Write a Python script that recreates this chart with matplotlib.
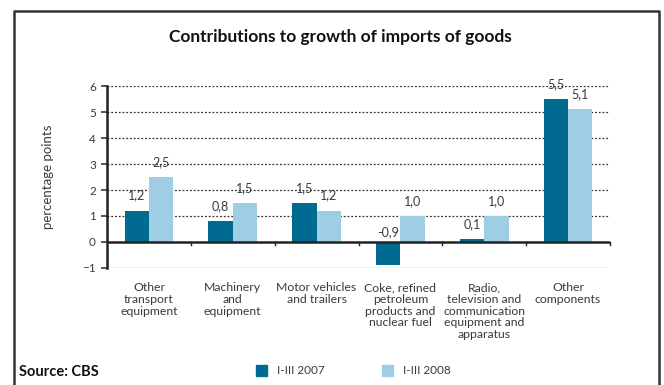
import numpy as np
import matplotlib.pyplot as plt
from matplotlib.patches import Rectangle

plt.rcParams['font.family'] = ['Lato', 'DejaVu Sans']

categories = ['Other\ntransport\nequipment', 'Machinery\nand\nequipment',
              'Motor vehicles\nand trailers',
              'Coke, refined\npetroleum\nproducts and\nnuclear fuel',
              'Radio,\ntelevision and\ncommunication\nequipment and\napparatus',
              'Other\ncomponents']
y2007 = [1.2, 0.8, 1.5, -0.9, 0.1, 5.5]
y2008 = [2.5, 1.5, 1.2, 1.0, 1.0, 5.1]
series_names = ['I-III 2007', 'I-III 2008']

dark = '#006a90'
light = '#9fcde4'
txt = '#3a3a3a'

fig = plt.figure(figsize=(6.64, 3.85), dpi=100)
ax = fig.add_axes([107/664, 1 - 268/385, 503/664, 182/385])

x = np.arange(len(categories)) + 0.5
w = 0.29
ax.bar(x - w/2, y2007, w, color=dark, zorder=3)
ax.bar(x + w/2, y2008, w, color=light, zorder=3)

def fmt(v):
    return f'{v:.1f}'.replace('.', ',')

for xs, vals in [(x - w/2, y2007), (x + w/2, y2008)]:
    for xi, v in zip(xs, vals):
        if v >= 0:
            ax.annotate(fmt(v), (xi, v), xytext=(0, 11), textcoords='offset points',
                        ha='center', va='center', fontsize=9, color=txt)
        else:
            ax.annotate(fmt(v), (xi, 0), xytext=(0, 7), textcoords='offset points',
                        ha='center', va='center', fontsize=9, color=txt)

ax.set_xlim(0, len(categories))
ax.set_ylim(-1, 6)
ax.set_yticks(range(-1, 7))
for yv in range(-1, 7):
    if yv != 0:
        ax.axhline(yv, color='#333333', lw=0.9, ls=(0, (1.5, 1.5)), zorder=1)
ax.axhline(0, color='#222222', lw=1.8, zorder=4)

for s in ['top', 'right', 'bottom']:
    ax.spines[s].set_visible(False)
ax.spines['left'].set_linewidth(1.8)
ax.spines['left'].set_color('#222222')
ax.tick_params(axis='y', length=4, width=1.2, labelsize=8.5, colors=txt, pad=4)
ax.set_xticks([])

# small category separators on the zero line
for b in range(1, len(categories) + 1):
    ax.plot([b, b], [0, -0.1], color='#222222', lw=1, zorder=4, clip_on=False)

for xi, lab in zip(x, categories):
    ax.text(xi, -1.55, lab, ha='center', va='top', fontsize=8.8, color=txt,
            linespacing=1.07)

ax.set_ylabel('percentage points', fontsize=9.5, color=txt, labelpad=20)

fig.text(340/664, 1 - 37/385, 'Contributions to growth of imports of goods',
         ha='center', va='center', fontsize=12.5, fontweight='bold', color='#111111')

# legend
for xl, col, name in [(256, dark, series_names[0]), (382, light, series_names[1])]:
    fig.patches.append(Rectangle((xl/664, 1 - 376/385), 11/664, 11/385,
                                 transform=fig.transFigure, color=col))
    fig.text((xl + 21)/664, 1 - 370/385, name, ha='left', va='center',
             fontsize=8.5, color=txt)

fig.text(19/664, 1 - 372/385, 'Source: CBS', ha='left', va='center',
         fontsize=10.5, fontweight='bold', color='#111111')

# outer frame, open at the bottom
fig.add_artist(plt.Line2D([14/664, 14/664, 659/664, 659/664],
                          [0, 1 - 11/385, 1 - 11/385, 0],
                          transform=fig.transFigure, color='#333333', lw=1.8))

fig.savefig('out.png', dpi=100)
